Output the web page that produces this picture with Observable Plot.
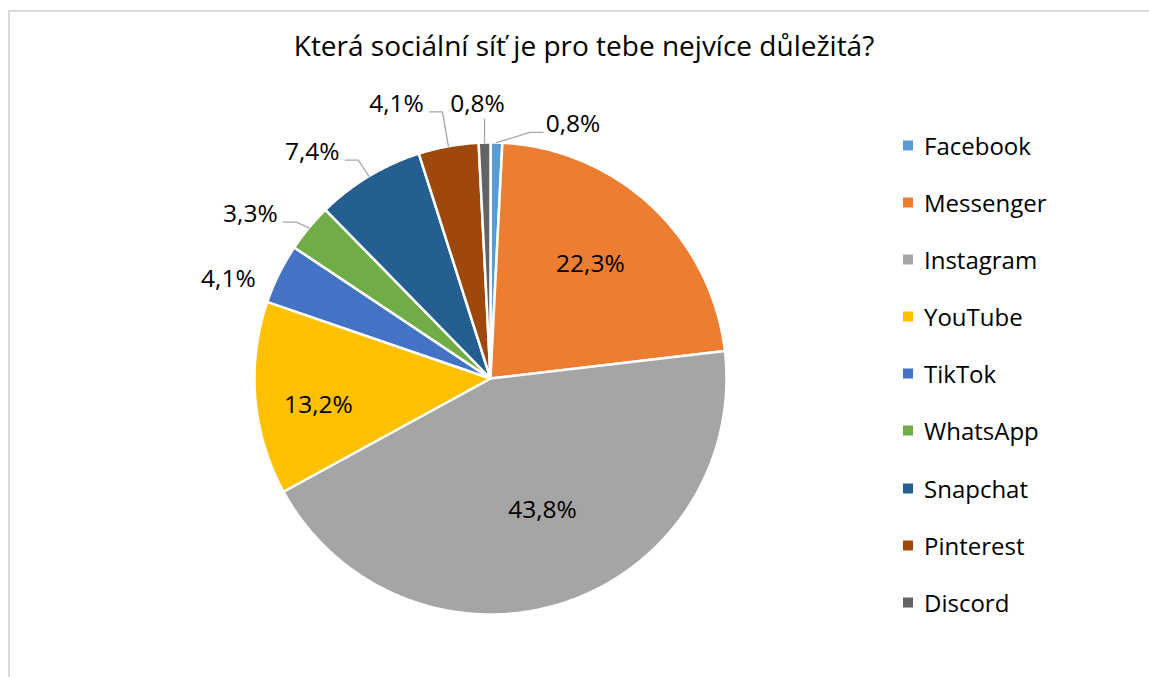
<!DOCTYPE html>
<html>
<head>
<meta charset="utf-8">
<script src="https://cdn.jsdelivr.net/npm/d3@7"></script>
<script src="https://cdn.jsdelivr.net/npm/@observablehq/plot@0.6"></script>
<style>
  html, body { margin: 0; padding: 0; background: #fff; }
  #wrap { position: relative; width: 1149px; height: 677px; overflow: hidden; font-family: "Open Sans", Lato, sans-serif; color: #000; }
  #frame { position: absolute; left: 8px; top: 10px; width: 1160px; height: 700px; border-top: 2px solid #d9d9d9; border-left: 2px solid #d9d9d9; box-sizing: border-box; }
  #title { position: absolute; top: 31px; left: 584px; transform: translateX(-50%); white-space: nowrap; font-size: 28px; line-height: 1; }
  #chart { position: absolute; left: 0; top: 0; }
  #legend { position: absolute; left: 903px; top: 0; }
  .item { position: absolute; left: 0; display: flex; align-items: center; white-space: nowrap; font-size: 24px; transform: translateY(-50%); }
  .sw { width: 10px; height: 10px; margin-right: 11px; }
</style>
</head>
<body>
<div id="wrap">
  <div id="frame"></div>
  <div id="chart"></div>
  <div id="title">Která sociální síť je pro tebe nejvíce důležitá?</div>
  <div id="legend"></div>
</div>
<script>
// ---- data ----
const categories = ["Facebook", "Messenger", "Instagram", "YouTube", "TikTok", "WhatsApp", "Snapchat", "Pinterest", "Discord"];
const shares = [0.8, 22.3, 43.8, 13.2, 4.1, 3.3, 7.4, 4.1, 0.8];
const labels = ["0,8%", "22,3%", "43,8%", "13,2%", "4,1%", "3,3%", "7,4%", "4,1%", "0,8%"];
const colors = ["#5B9BD5", "#ED7D31", "#A5A5A5", "#FFC000", "#4472C4", "#70AD47", "#255E91", "#9E480E", "#636363"];

// ---- label layout (polar placement of label centres: radius factor, angle in degrees clockwise from 12 o'clock) ----
const labelRadius = [1.132, 0.644, 0.601, 0.738, 1.188, 1.233, 1.221, 1.230, 1.164];
const labelAngle  = [18.0, 41.1, 158.5, 261.1, 290.8, 304.4, 321.8, 341.1, 357.3];
const leaderKind  = ["right", "none", "none", "none", "none", "left", "left", "left", "below"];

// ---- geometry ----
const R = 236;            // pixel radius
const px = 1 / R;         // one pixel in data units
const rad = d => d * Math.PI / 180;
const pt = (a, r) => [r * Math.sin(a), r * Math.cos(a)];

const pie = d3.pie().sort(null).value(d => d)(shares);

const slicePts = [];
pie.forEach((p, i) => {
  const name = categories[i];
  slicePts.push({name, x: 0, y: 0});
  const n = Math.max(4, Math.ceil((p.endAngle - p.startAngle) / rad(0.5)));
  for (let k = 0; k <= n; k++) {
    const a = p.startAngle + (p.endAngle - p.startAngle) * k / n;
    const [x, y] = pt(a, 1);
    slicePts.push({name, x, y});
  }
});

const labelData = categories.map((name, i) => {
  const [x, y] = pt(rad(labelAngle[i]), labelRadius[i]);
  return {name, x, y, text: labels[i]};
});

const leaderPts = [];
const halfW = 28;
categories.forEach((name, i) => {
  const kind = leaderKind[i];
  if (kind === "none") return;
  const mid = (pie[i].startAngle + pie[i].endAngle) / 2;
  const [sx, sy] = pt(mid, 1);
  const L = labelData[i];
  if (kind === "below") {
    leaderPts.push({name, x: sx, y: sy}, {name, x: sx, y: L.y - 15 * px});
  } else {
    const dir = kind === "right" ? -1 : 1; // side of label where the leader attaches
    const ex = L.x + dir * (halfW + (kind === "right" ? 2 : 5)) * px;
    const ey = L.y - 8 * px;
    const bx = ex + dir * 13 * px;
    leaderPts.push({name, x: sx, y: sy}, {name, x: bx, y: ey}, {name, x: ex, y: ey});
  }
});

const chart = Plot.plot({
  width: 1149,
  height: 677,
  margin: 0,
  x: {domain: [-1, 1], range: [254, 726], axis: null},
  y: {domain: [-1, 1], range: [614, 142], axis: null},
  color: {domain: categories, range: colors},
  style: {background: "transparent", overflow: "visible"},
  marks: [
    Plot.line(slicePts, {x: "x", y: "y", z: "name", fill: "name", stroke: "white", strokeWidth: 2.5, strokeLinejoin: "round", curve: "linear-closed"}),
    Plot.line(leaderPts, {x: "x", y: "y", z: "name", stroke: "#a6a6a6", strokeWidth: 1.3}),
    Plot.text(labelData, {x: "x", y: "y", text: "text", fontSize: 24.5, fill: "#000", fontFamily: "'Open Sans', Lato, sans-serif"})
  ]
});
document.getElementById("chart").appendChild(chart);

// ---- legend ----
const legend = document.getElementById("legend");
const rowY = [145, 202, 259, 316, 373, 430, 488, 545, 602];
categories.forEach((name, i) => {
  const it = document.createElement("div");
  it.className = "item";
  it.style.top = rowY[i] + "px";
  it.innerHTML = `<span class="sw" style="background:${colors[i]}"></span><span>${name}</span>`;
  legend.appendChild(it);
});
</script>
</body>
</html>
